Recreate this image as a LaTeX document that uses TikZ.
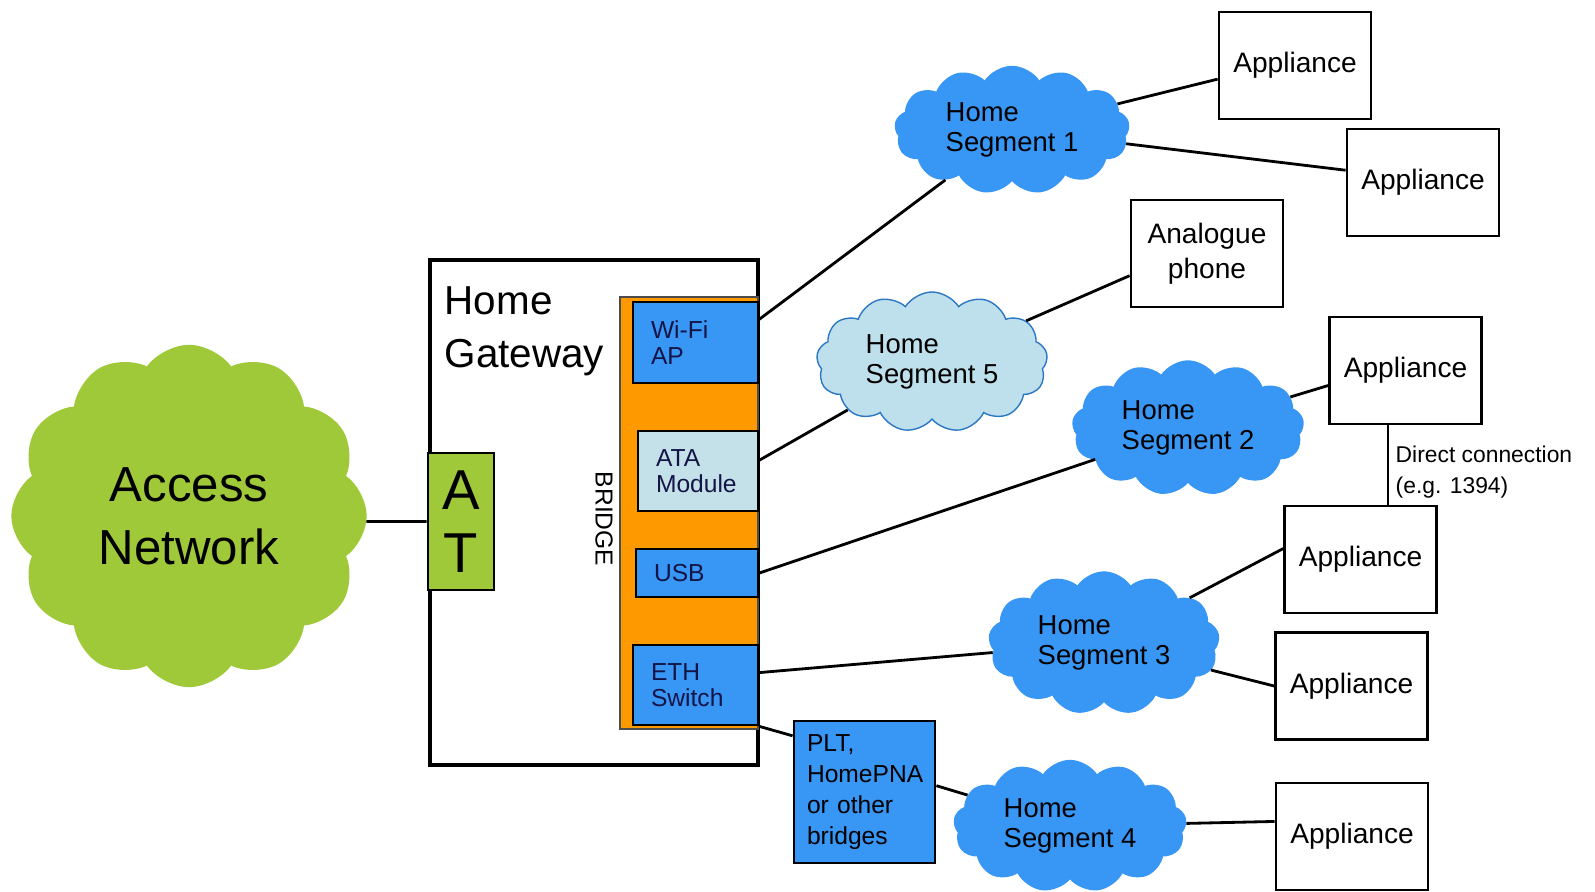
\documentclass[tikz,border=0pt]{standalone}
\usepackage{fontspec}
\setmainfont{Liberation Sans}
\usetikzlibrary{shapes.symbols}
\definecolor{segblue}{RGB}{56,150,245}
\definecolor{netgreen}{RGB}{160,201,58}
\definecolor{bridgeorange}{RGB}{255,153,0}
\definecolor{atablue}{RGB}{196,225,233}
\definecolor{lightseg}{RGB}{190,224,236}
\definecolor{boxtext}{RGB}{20,20,70}
\tikzset{
    segcloud/.style={cloud,cloud puffs=13,cloud puff arc=115,cloud ignores aspect,
        fill=segblue,draw=segblue,align=left,inner sep=0pt,font=\fontsize{7.8}{8.4}\selectfont},
    appbox/.style={draw,thick,minimum width=15.2mm,minimum height=10.7mm,align=center,
        font=\fontsize{8}{10}\selectfont},
    portbox/.style={draw,thick,fill=segblue,text=boxtext,inner xsep=1.8mm,text width=#1,
        align=left,font=\fontsize{7}{7.5}\selectfont},
    link/.style={thick}
}
\begin{document}
\begin{tikzpicture}[x=0.1mm,y=-0.1mm]
    \useasboundingbox (0,0) rectangle (1595,892);
    % access side
    \node[cloud,cloud puffs=12,cloud puff arc=110,cloud ignores aspect,fill=netgreen,draw=netgreen,
        minimum width=35.4mm,minimum height=34.1mm,align=center,
        font=\fontsize{14}{18}\selectfont] (access) at (189,516) {Access\\Network};
    \node[draw,very thick,minimum width=32.8mm,minimum height=50.5mm] (gw) at (594,512.5) {};
    \node[anchor=north west,align=left,inner sep=0pt,font=\fontsize{11.5}{15}\selectfont]
        (gwname) at (444,286) {Home\\Gateway};
    \node[draw,thick,fill=netgreen,minimum width=6.6mm,minimum height=13.7mm,align=center,
        font=\fontsize{16}{18}\selectfont] (at) at (461,521.5) {A\\T};
    \draw[link] (access) -- (access.east |- at.west) -- (at.west);
    % bridge and ports
    \node[draw=black!70,fill=bridgeorange,minimum width=13.8mm,minimum height=43.2mm] (bridge) at (689,513) {};
    \node[rotate=-90,font=\fontsize{7}{7}\selectfont] (bridgename) at (604,519) {BRIDGE};
    \node[portbox=8.9mm,minimum height=8.1mm] (wifi) at (695.5,342.5) {Wi-Fi\\AP};
    \node[portbox=8.4mm,minimum height=8mm,fill=atablue] (ata) at (698,471) {ATA\\Module};
    \node[portbox=8.6mm,minimum height=4.8mm] (usb) at (697,573) {USB};
    \node[portbox=8.9mm,minimum height=8mm] (eth) at (695.5,685) {ETH\\Switch};
    \node[portbox=11.5mm,inner xsep=1.3mm,minimum height=14.2mm,text=black,
        font=\fontsize{7}{8.8}\selectfont] (plt) at (864.5,792) {PLT,\\HomePNA\\or other\\bridges};
    % home segments
    \node[segcloud,minimum width=23.4mm,minimum height=12.7mm] (seg1) at (1012,130) {Home\\Segment 1};
    \node[segcloud,minimum width=23.1mm,minimum height=14mm,fill=lightseg,draw=segblue!80!black]
        (seg5) at (932,362) {Home\\Segment 5};
    \node[segcloud,minimum width=23.1mm,minimum height=13.4mm] (seg2) at (1188,428) {Home\\Segment 2};
    \node[segcloud,minimum width=23mm,minimum height=14.2mm] (seg3) at (1104,643) {Home\\Segment 3};
    \node[segcloud,minimum width=23.2mm,minimum height=13.1mm] (seg4) at (1070,826) {Home\\Segment 4};
    % appliances
    \node[appbox] (app1) at (1295,65.5) {Appliance};
    \node[appbox] (app2) at (1423,182.5) {Appliance};
    \node[appbox] (phone) at (1207,253.5) {Analogue\\phone};
    \node[appbox] (app3) at (1405.5,370.5) {Appliance};
    \node[appbox] (app4) at (1360.5,559.5) {Appliance};
    \node[appbox] (app5) at (1351.5,686) {Appliance};
    \node[appbox] (app6) at (1352,836.5) {Appliance};
    % links
    \draw[link] (wifi.20) -- (seg1);
    \draw[link] (ata.10) -- (seg5);
    \draw[link] (usb.east) -- (seg2);
    \draw[link] (eth.11) -- (seg3);
    \draw[link] (eth.south east) -- (plt.142);
    \draw[link] (plt.5) -- (seg4);
    \draw[link] (seg1) -- (app1.190);
    \draw[link] (seg1) -- (app2.171);
    \draw[link] (seg5) -- (phone.196);
    \draw[link] (seg2) -- (app3.191);
    \draw[link] (seg3) -- (app4.172);
    \draw[link] (seg3) -- (app5.west);
    \draw[link] (seg4) -- (app6.169);
    \draw[link] ([xshift=-1.75mm]app3.south) -- ([xshift=-1.75mm]app3.south |- app4.north);
    \node[anchor=west,align=left,inner sep=0pt,font=\fontsize{6.5}{9}\selectfont]
        (direct) at (1395,472) {Direct connection\\(e.g. 1394)};
\end{tikzpicture}
\end{document}
